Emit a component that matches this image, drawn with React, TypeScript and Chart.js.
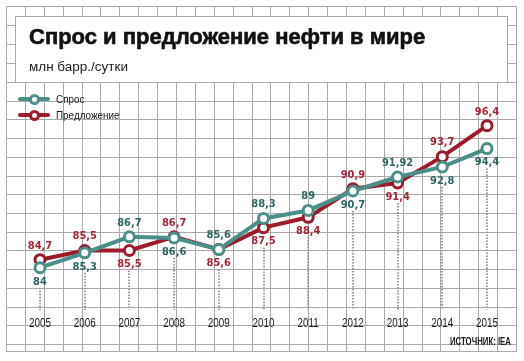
import React, { useEffect, useRef } from "react";
import { Chart, registerables } from "chart.js";

Chart.register(...registerables);

const years = ["2005", "2006", "2007", "2008", "2009", "2010", "2011", "2012", "2013", "2014", "2015"];
const demand = [84, 85.3, 86.7, 86.6, 85.6, 88.3, 89, 90.7, 91.92, 92.8, 94.4];
const supply = [84.7, 85.5, 85.5, 86.7, 85.6, 87.5, 88.4, 90.9, 91.4, 93.7, 96.4];
const demandLabelPos = ["below", "below", "above", "below", "above", "above", "above", "below", "above", "below", "below"];
const supplyLabelPos = ["above", "above", "below", "above", "below", "below", "below", "above", "below", "above", "above"];

const TEAL = "#4b8f8a";
const TEAL_TEXT = "#2d6664";
const RED = "#9c1c2c";
const RED_TEXT = "#a82638";
const GRID = "#a9a9a9";

const fmt = (v: number) => String(v).replace(".", ",");

const backgroundPlugin = {
  id: "bgGrid",
  beforeDraw(chart: any) {
    const ctx = chart.ctx;
    ctx.save();
    ctx.fillStyle = "#ffffff";
    ctx.fillRect(0, 0, chart.width, chart.height);
    ctx.strokeStyle = GRID;
    ctx.lineWidth = 1;
    const x0 = 6, x1 = 516, cw = (516 - 6) / 27;
    const line = (ax: number, ay: number, bx: number, by: number) => {
      ctx.beginPath();
      ctx.moveTo(ax, ay);
      ctx.lineTo(bx, by);
      ctx.stroke();
    };
    for (let k = 0; k <= 27; k++) {
      const x = Math.round(x0 + k * cw) + 0.5;
      line(x, 6, x, 16);
      line(x, 82, x, 351);
    }
    line(x0 + 0.5, 6, x0 + 0.5, 351);
    line(x1 + 0.5, 6, x1 + 0.5, 351);
    line(x0, 6.5, x1 + 1, 6.5);
    for (let j = 0; j <= 14; j++) {
      const y = Math.round(82 + j * 18.71) + 0.5;
      line(x0, y, x1 + 1, y);
    }
    line(x0, 351.5, x1 + 1, 351.5);
    [25, 44, 63].forEach((y) => {
      line(x0, y + 0.5, 15, y + 0.5);
      line(507, y + 0.5, x1, y + 0.5);
    });
    ctx.fillStyle = "#ffffff";
    ctx.fillRect(15.5, 16.5, 492, 66);
    ctx.strokeRect(15.5, 16.5, 492, 66);
    ctx.restore();
  },
  beforeDatasetsDraw(chart: any) {
    const ctx = chart.ctx;
    const xs = chart.scales.x;
    const ys = chart.scales.y;
    ctx.save();
    ctx.strokeStyle = "#9a9a9a";
    ctx.lineWidth = 2;
    ctx.setLineDash([1.5, 1.5]);
    years.forEach((_, i) => {
      const x = Math.round(xs.getPixelForValue(i));
      const yd = ys.getPixelForValue(demand[i]);
      const yp = ys.getPixelForValue(supply[i]);
      let start = Math.max(yd, yp) + 6;
      if (demandLabelPos[i] === "below") start = Math.max(start, yd + 14 + 6);
      if (supplyLabelPos[i] === "below") start = Math.max(start, yp + 14 + 6);
      ctx.beginPath();
      ctx.moveTo(x, start);
      ctx.lineTo(x, 310);
      ctx.stroke();
    });
    ctx.restore();
  },
  afterDatasetsDraw(chart: any) {
    const ctx = chart.ctx;
    const xs = chart.scales.x;
    const ys = chart.scales.y;
    ctx.save();
    ctx.textAlign = "center";
    ctx.textBaseline = "middle";
    ctx.font = 'bold 11px "DejaVu Sans Condensed", "DejaVu Sans", sans-serif';
    years.forEach((_, i) => {
      const x = xs.getPixelForValue(i);
      const yd = ys.getPixelForValue(demand[i]);
      const yp = ys.getPixelForValue(supply[i]);
      ctx.fillStyle = TEAL_TEXT;
      ctx.fillText(fmt(demand[i]), x, demandLabelPos[i] === "below" ? yd + 14 : yd - 14);
      ctx.fillStyle = RED_TEXT;
      ctx.fillText(fmt(supply[i]), x, supplyLabelPos[i] === "below" ? yp + 14 : yp - 14);
    });
    ctx.fillStyle = "#1a1a1a";
    ctx.font = '12px "Liberation Sans", Arial, sans-serif';
    years.forEach((y, i) => {
      const x = xs.getPixelForValue(i);
      ctx.save();
      ctx.translate(x, 324);
      ctx.scale(0.82, 1);
      ctx.fillText(y, 0, 0);
      ctx.restore();
    });
    ctx.restore();
  },
};

export default function App() {
  const ref = useRef<HTMLCanvasElement | null>(null);
  useEffect(() => {
    if (!ref.current) return;
    const chart = new Chart(ref.current, {
      type: "line",
      data: {
        labels: years,
        datasets: [
          {
            label: "Спрос",
            data: demand,
            borderColor: TEAL,
            borderWidth: 4,
            pointRadius: 5,
            pointBorderWidth: 3,
            pointBackgroundColor: "#ffffff",
            pointBorderColor: TEAL,
            tension: 0,
          },
          {
            label: "Предложение",
            data: supply,
            borderColor: RED,
            borderWidth: 4,
            pointRadius: 5,
            pointBorderWidth: 3,
            pointBackgroundColor: "#ffffff",
            pointBorderColor: RED,
            tension: 0,
          },
        ],
      },
      options: {
        responsive: false,
        animation: false,
        devicePixelRatio: 1,
        layout: { padding: { left: 17.65, right: 14.65, top: 84.5, bottom: 47.5 } },
        scales: {
          x: { type: "category", offset: true, display: false },
          y: { type: "linear", min: 80, max: 100, display: false },
        },
        plugins: { legend: { display: false }, tooltip: { enabled: false }, title: { display: false } },
      },
      plugins: [backgroundPlugin],
    });
    return () => chart.destroy();
  }, []);

  const legendItem = (color: string, label: string, top: number) => (
    <div style={{ position: "absolute", left: 18, top: top - 6, height: 12, width: 140 }}>
      <div style={{ position: "absolute", left: 0, top: 4, width: 32, height: 4, background: color, borderRadius: 2 }} />
      <div
        style={{
          position: "absolute",
          left: 10.5,
          top: 0.5,
          width: 5,
          height: 5,
          border: `3px solid ${color}`,
          borderRadius: "50%",
          background: "#fff",
        }}
      />
      <div
        style={{
          position: "absolute",
          left: 38,
          top: -1,
          font: '11.5px "Liberation Sans", Arial, sans-serif',
          lineHeight: "14px",
          color: "#1a1a1a",
          whiteSpace: "nowrap",
          transform: "scaleX(0.86)",
          transformOrigin: "left center",
        }}
      >
        {label}
      </div>
    </div>
  );

  return (
    <div style={{ position: "fixed", left: 0, top: 0, width: 524, height: 361, background: "#fff", overflow: "hidden" }}>
      <canvas ref={ref} width={524} height={361} style={{ position: "absolute", left: 0, top: 0, width: 524, height: 361 }} />
      <div
        style={{
          position: "absolute",
          left: 29,
          top: 26,
          font: 'bold 22px "Liberation Sans", Arial, sans-serif',
          lineHeight: "22px",
          color: "#111",
          whiteSpace: "nowrap",
          WebkitTextStroke: "0.6px #111",
        }}
      >
        Спрос и предложение нефти в мире
      </div>
      <div
        style={{
          position: "absolute",
          left: 29,
          top: 60,
          font: '13.5px "Liberation Sans", Arial, sans-serif',
          lineHeight: "14px",
          color: "#222",
          whiteSpace: "nowrap",
        }}
      >
        млн барр./сутки
      </div>
      {legendItem(TEAL, "Спрос", 99)}
      {legendItem(RED, "Предложение", 115)}
      <div
        style={{
          position: "absolute",
          left: 450,
          top: 336,
          font: 'bold 10px "Liberation Sans", Arial, sans-serif',
          lineHeight: "12px",
          color: "#1a1a1a",
          whiteSpace: "nowrap",
          transform: "scaleX(0.78)",
          transformOrigin: "left center",
        }}
      >
        ИСТОЧНИК: IEA
      </div>
    </div>
  );
}
